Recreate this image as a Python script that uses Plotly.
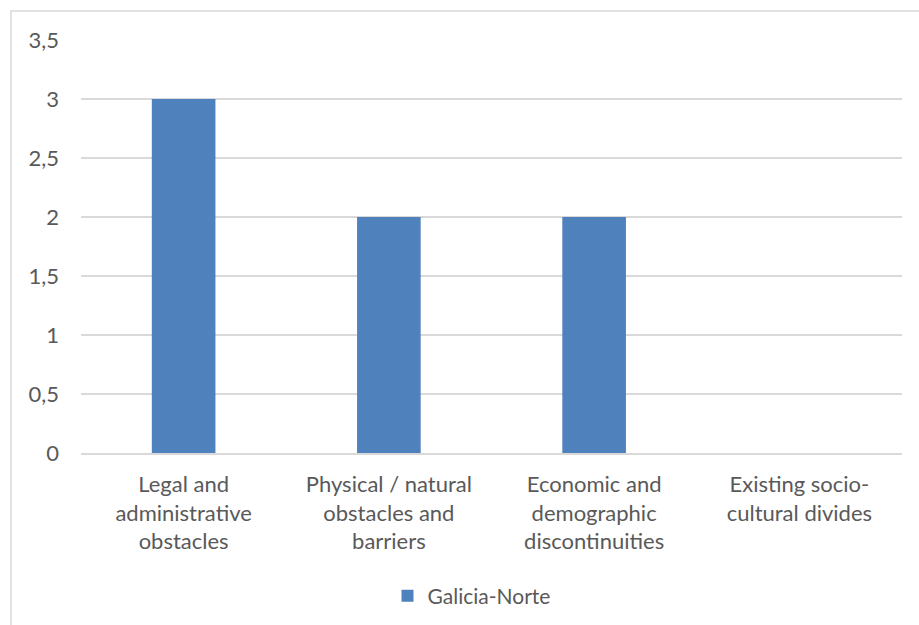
import plotly.graph_objects as go

categories = ["Legal and<br>administrative<br>obstacles",
              "Physical / natural<br>obstacles and<br>barriers",
              "Economic and<br>demographic<br>discontinuities",
              "Existing socio-<br>cultural divides"]
values = [3, 2, 2, 0]
series_name = "Galicia-Norte"

W, H = 919, 625
L, R, T, B = 81, 17, 40, 172
pw, ph = W - L - R, H - T - B
FONT = "Lato"
FS = 22
TXT = "#595959"

fig = go.Figure()
fig.add_trace(go.Bar(x=categories, y=values, name=series_name,
                     marker=dict(color="#4F81BD", line=dict(width=0)),
                     width=0.31))

fig.update_layout(
    width=W, height=H,
    margin=dict(l=L, r=R, t=T, b=B, autoexpand=False),
    paper_bgcolor="white", plot_bgcolor="white",
    separators=", ",
    font=dict(family=FONT, size=FS, color=TXT),
    showlegend=True,
    legend=dict(orientation="h", x=0.5 - 20 / pw, xanchor="center", y=(453 - 596) / ph, yanchor="middle",
                font=dict(size=FS - 1, color=TXT), itemwidth=30),
    shapes=[dict(type="rect", xref="paper", yref="paper",
                 x0=(11 - L) / pw, x1=(930 - L) / pw,
                 y0=-(640 - T - ph) / ph, y1=1 + (T - 11) / ph,
                 line=dict(color="#D9D9D9", width=1.5), fillcolor="rgba(0,0,0,0)", layer="below")],
)
fig.update_xaxes(showgrid=False, showline=True, linecolor="#D9D9D9", linewidth=1.5, automargin=False,
                 ticks="", tickfont=dict(size=FS, color=TXT), ticklabelstandoff=11)
fig.update_yaxes(range=[0, 3.5], dtick=0.5, showgrid=True, gridcolor="#D9D9D9", gridwidth=1.5,
                 zeroline=False, showline=False, ticks="", ticklabelstandoff=21, automargin=False,
                 tickfont=dict(size=FS, color=TXT))

fig.write_html("out.html")
